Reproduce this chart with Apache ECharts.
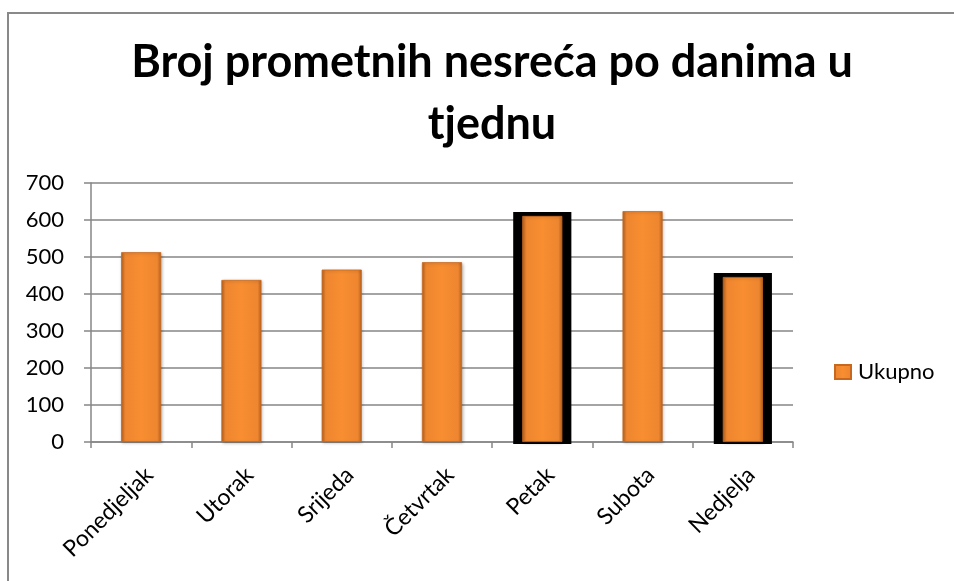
<!DOCTYPE html>
<html>
<head>
<meta charset="utf-8">
<script src="https://cdn.jsdelivr.net/npm/echarts@6/dist/echarts.min.js"></script>
<style>
html,body{margin:0;padding:0;background:#fff;}
#chart{width:954px;height:581px;}
</style>
</head>
<body>
<div id="chart"></div>
<script>
var titleText = 'Broj prometnih nesreća po danima u\ntjednu';
var seriesName = 'Ukupno';
var categories = ['Ponedjeljak', 'Utorak', 'Srijeda', 'Četvrtak', 'Petak', 'Subota', 'Nedjelja'];
var values = [513, 438, 466, 486, 611, 624, 446];
var highlighted = ['Petak', 'Nedjelja'];
var yTicks = [0, 100, 200, 300, 400, 500, 600, 700];

var chart = echarts.init(document.getElementById('chart'));

var barFill = new echarts.graphic.LinearGradient(0, 0, 1, 0, [
  {offset: 0, color: '#B8621E'},
  {offset: 0.1, color: '#EE8630'},
  {offset: 0.5, color: '#F88E30'},
  {offset: 0.9, color: '#EE8630'},
  {offset: 1, color: '#B8621E'}
]);

var outlineData = [];
categories.forEach(function (c, i) {
  if (highlighted.indexOf(c) >= 0) outlineData.push([i, values[i]]);
});

var font = 'Lato, "Open Sans", sans-serif';

chart.setOption({
  animation: false,
  backgroundColor: '#fff',
  textStyle: {fontFamily: font},
  title: {
    text: titleText,
    left: 487,
    textAlign: 'center',
    top: 26,
    textStyle: {fontFamily: 'Lato', fontWeight: 'bold', fontSize: 45, color: '#000', lineHeight: 62}
  },
  legend: {
    data: [{name: seriesName, icon: 'rect'}],
    left: 834,
    top: 361,
    padding: 0,
    itemWidth: 16,
    itemHeight: 14,
    textStyle: {fontFamily: font, fontSize: 22, color: '#000', padding: [0, 0, 0, 2]}
  },
  grid: {left: 91, top: 183, width: 702, height: 259, containLabel: false},
  xAxis: {
    type: 'category',
    data: categories,
    boundaryGap: true,
    axisLine: {show: true, lineStyle: {color: '#868686', width: 1.5}},
    axisTick: {show: true, alignWithLabel: false, length: 6, lineStyle: {color: '#868686', width: 1.5}},
    axisLabel: {rotate: 45, margin: 21, align: 'right', verticalAlign: 'top', fontSize: 23, color: '#000', fontFamily: font, interval: 0}
  },
  yAxis: {
    type: 'value',
    min: 0, max: 700, interval: 100,
    axisLine: {show: true, lineStyle: {color: '#868686', width: 1.5}},
    axisTick: {show: true, length: 7, lineStyle: {color: '#868686', width: 1.5}},
    axisLabel: {margin: 27, fontSize: 22, color: '#000', fontFamily: font,
      formatter: function (v) { return yTicks.indexOf(v) >= 0 ? String(v) : ''; }},
    splitLine: {show: true, lineStyle: {color: '#868686', width: 1.5}}
  },
  series: [
    {
      type: 'custom',
      name: 'outline',
      z: 1,
      silent: true,
      data: outlineData,
      renderItem: function (params, api) {
        var idx = api.value(0);
        var top = api.coord([idx, api.value(1)]);
        var base = api.coord([idx, 0]);
        var bw = api.size([1, 0])[0];
        var w = bw * 0.58;
        return {
          type: 'rect',
          shape: {x: top[0] - w / 2, y: top[1] - 4, width: w, height: base[1] - top[1] + 6},
          style: {fill: '#000'}
        };
      }
    },
    {
      type: 'bar',
      name: seriesName,
      z: 2,
      data: values,
      barWidth: '40%',
      itemStyle: {
        color: barFill,
        borderColor: '#C8681F',
        borderWidth: 0.8,
        shadowColor: 'rgba(0,0,0,0.25)',
        shadowBlur: 3,
        shadowOffsetX: 1,
        shadowOffsetY: 1
      }
    }
  ],
  graphic: [
    {
      type: 'polyline',
      shape: {points: [[8, 600], [8, 13], [960, 13]]},
      style: {stroke: '#898989', lineWidth: 2, fill: null},
      silent: true
    }
  ]
});
</script>
</body>
</html>
